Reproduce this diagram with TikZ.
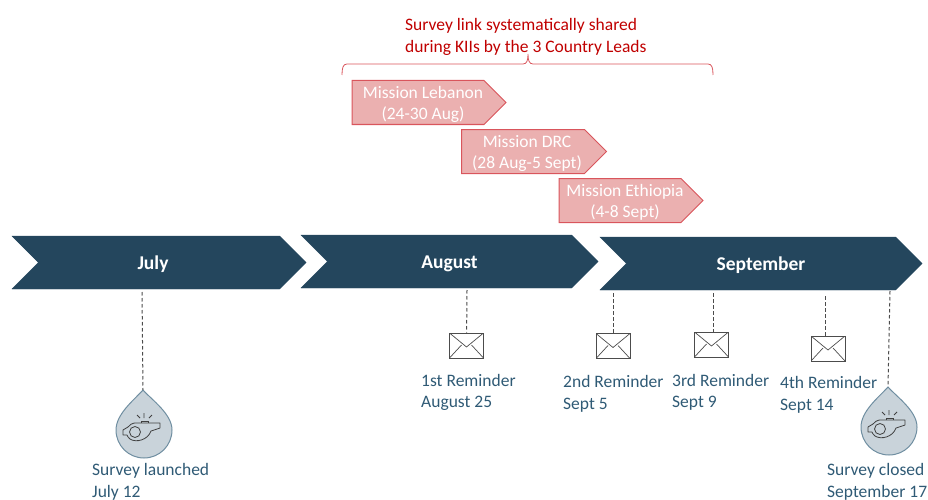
\documentclass[tikz,border=0pt]{standalone}
\usepackage{fontspec}
\setmainfont{Carlito}
\usetikzlibrary{shapes.symbols}
\definecolor{barblue}{HTML}{24465D}
\definecolor{labelblue}{HTML}{2F5A75}
\definecolor{dropfill}{HTML}{C9D3DA}
\definecolor{dropline}{HTML}{6F8EA1}
\definecolor{darkred}{HTML}{C00000}
\definecolor{pinkfill}{HTML}{EBB0B0}
\definecolor{pinkline}{HTML}{D9555C}
\begin{document}
\begin{tikzpicture}[x=1pt,y=-1pt,
    month/.style={signal,signal to=east,signal from=west,signal pointer angle=90,fill=barblue,draw=barblue,minimum height=53pt,inner sep=0pt},
    monthtext/.style={yshift=-2pt,text=white,font=\fontsize{19.5}{22}\selectfont\bfseries,inner sep=0pt},
    mission/.style={signal,signal to=east,signal pointer angle=90,fill=pinkfill,draw=pinkline,line width=1pt,minimum height=44pt,inner sep=0pt},
    missiontext/.style={xshift=5pt,yshift=-1.5pt,text=white,align=center,font=\fontsize{17.5}{21}\selectfont,inner sep=0pt},
    mail/.style={rectangle,draw=black!70,line width=1pt,minimum width=34pt,minimum height=25pt,inner sep=0pt,
        path picture={\draw[black!70,line width=0.7pt] (path picture bounding box.north west) -- ++(17,14) -- (path picture bounding box.north east);
            \draw[black!70,line width=0.7pt] (path picture bounding box.south west) -- ++(12,-13);
            \draw[black!70,line width=0.7pt] (path picture bounding box.south east) -- ++(-12,-13);}},
    note/.style={anchor=west,align=left,text=labelblue,font=\fontsize{17.5}{21.5}\selectfont,inner sep=0pt},
    guide/.style={black!70,line width=1pt,dash pattern=on 3.5pt off 2.5pt},
    drop/.pic={
        \coordinate (-tip) at (-1,-40);
        \draw[fill=dropfill,draw=dropline,line width=1pt] (-1,-40) .. controls (8,-30) and (28,-16) .. (28,0) .. controls (28,15.5) and (15.5,28) .. (0,28) .. controls (-15.5,28) and (-28,15.5) .. (-28,0) .. controls (-28,-16) and (-10,-30) .. cycle;
        % whistle
        \draw[black!75,line width=0.8pt,line join=round] (-16,-3) .. controls (-12,-8) and (-8,-7) .. (-5,-7) -- (16,-7) -- (16,-2) -- (7,1) .. controls (4,10) and (-8,13) .. (-14,9) .. controls (-16,7) and (-17,6) .. (-17,5) -- (-21,5) -- (-21,0) -- cycle;
        \draw[black!75,line width=0.8pt] (-9,2) circle[radius=5.5pt];
        \draw[black!75,line width=0.8pt] (-3,-7) -- (-3,-9) -- (4,-9) -- (4,-7);
        \draw[black!75,line width=0.8pt] (0,-12) -- (0,-17) (-4,-12) -- (-7,-15) (5,-12) -- (8,-15);
    }]

    \useasboundingbox (0,0) rectangle (928,500);

    % month bars
    \node[month,minimum width=294pt,label={[monthtext,xshift=-6pt]center:July}] (july) at (159,262.5) {};
    \node[month,minimum width=297pt,label={[monthtext]center:August}] (august) at (449.5,261.5) {};
    \node[month,minimum width=322pt,label={[monthtext]center:September}] (september) at (761,263.5) {};

    % missions
    \node[mission,minimum width=154pt,label={[missiontext]center:Mission Lebanon\\(24-30 Aug)}] (lebanon) at (418,102.5) {};
    \node[mission,minimum width=145pt,label={[missiontext,xshift=-1pt]center:Mission DRC\\(28 Aug-5 Sept)}] (drc) at (523,151.5) {};
    \node[mission,minimum width=144pt,label={[missiontext]center:Mission Ethiopia\\(4-8 Sept)}] (ethiopia) at (620,200.5) {};

    % bracket
    \node[anchor=west,align=left,text=darkred,font=\fontsize{17.5}{22}\selectfont,inner sep=0pt] (shared) at (405,37) {Survey link systematically shared\\during KIIs by the 3 Country Leads};
    \draw[pinkline,line width=0.8pt] (342,75) .. controls (342,68) and (343,64) .. (347,64) -- (523,64) .. controls (527,64) and (528,60) .. (528,54) .. controls (528,60) and (529,64) .. (533,64) -- (708,64) .. controls (712,64) and (713,68) .. (713,75);

    % reminders
    \node[mail] (m1) at (466.5,345.5) {};
    \node[mail] (m2) at (613,346) {};
    \node[mail] (m3) at (711.5,344.5) {};
    \node[mail] (m4) at (828,348.5) {};

    \node[note] (r1) at (421,392.5) {1st Reminder\\August 25};
    \node[note] (r2) at (563,394) {2nd Reminder\\Sept 5};
    \node[note] (r3) at (672,392.5) {3rd Reminder\\Sept 9};
    \node[note] (r4) at (780,395) {4th Reminder\\Sept 14};

    % start and end
    \pic (launch) at (144,430) {drop};
    \pic (close) at (889,427) {drop};
    \node[note] (launched) at (92,482) {Survey launched\\July 12};
    \node[note] (closed) at (827,482) {Survey closed\\September 17};

    \coordinate (a0) at (142,292);
    \coordinate (a1) at (467,290);
    \coordinate (a2) at (613,293);
    \coordinate (a3) at (713,293);
    \coordinate (a4) at (825,296);
    \coordinate (a5) at (890,291);
    \coordinate (b2) at (613,333.5);
    \coordinate (b3) at (713,332);
    \coordinate (b4) at (825,336);

    \draw[guide] (a0) -- (launch-tip);
    \draw[guide] (a1) -- (m1);
    \draw[guide] (a2) -- (b2);
    \draw[guide] (a3) -- (b3);
    \draw[guide] (a4) -- (b4);
    \draw[guide] (a5) -- (close-tip);

\end{tikzpicture}
\end{document}
